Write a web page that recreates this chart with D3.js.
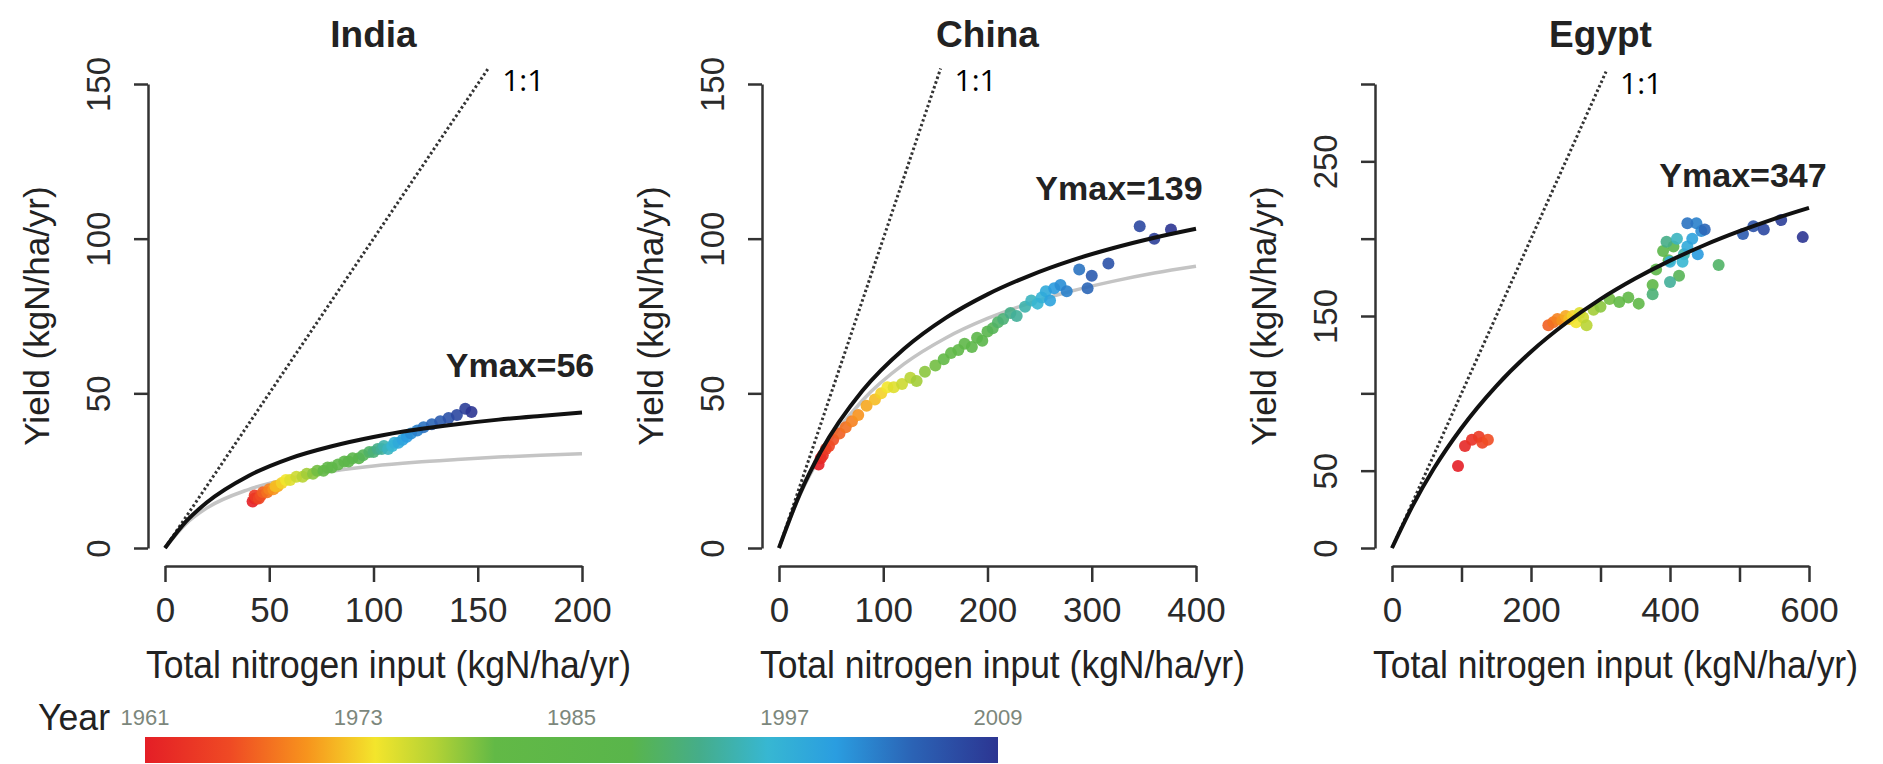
<!DOCTYPE html>
<html>
<head>
<meta charset="utf-8">
<script src="https://cdn.jsdelivr.net/npm/d3@7/dist/d3.min.js"></script>
<style>
body { margin: 0; background: #fff; }
text { font-family: "Liberation Sans", Arial, sans-serif; fill: #222; }
</style>
</head>
<body>
<svg id="chart" width="1883" height="764"></svg>
<script>
// ---- data ----
const countries = ["India", "China", "Egypt"];
const ymaxLabels = ["Ymax=56", "Ymax=139", "Ymax=347"];
const xMax = [200, 400, 600];
const yMax = [150, 150, 300];
const xTicks = [[0, 50, 100, 150, 200], [0, 100, 200, 300, 400], [0, 100, 200, 300, 400, 500, 600]];
const xTickLabels = [[0, 50, 100, 150, 200], [0, 100, 200, 300, 400], [0, 200, 400, 600]];
const yTicks = [[0, 50, 100, 150], [0, 50, 100, 150], [0, 50, 100, 150, 200, 250, 300]];
const yTickLabels = [[0, 50, 100, 150], [0, 50, 100, 150], [0, 50, 150, 250]];
const oneToOneEnd = [155, 155, 308];

const years = [1961, 1962, 1963, 1964, 1965, 1966, 1967, 1968, 1969, 1970,
    1971, 1972, 1973, 1974, 1975, 1976, 1977, 1978, 1979, 1980,
    1981, 1982, 1983, 1984, 1985, 1986, 1987, 1988, 1989, 1990,
    1991, 1992, 1993, 1994, 1995, 1996, 1997, 1998, 1999, 2000,
    2001, 2002, 2003, 2004, 2005, 2006, 2007, 2008, 2009];

const indiaN = [42, 43, 44, 43, 45, 46, 47, 49, 50, 52, 54, 53, 56, 58, 60, 63, 66, 68, 71, 73,
    76, 78, 80, 83, 86, 88, 90, 93, 95, 98, 100, 102, 104, 105, 107, 109, 110, 112, 114, 116,
    118, 121, 124, 128, 132, 136, 140, 144, 147];
const indiaY = [15, 16, 16, 17, 16, 17, 18, 18, 19, 19, 20, 20, 21, 22, 22, 23, 23, 24, 24, 25,
    25, 26, 26, 27, 28, 28, 29, 29, 30, 31, 31, 32, 32, 33, 32, 33, 34, 34, 35, 36,
    37, 38, 39, 40, 41, 42, 43, 45, 44];

const chinaN = [38, 40, 42, 45, 48, 52, 58, 64, 70, 76, 84, 92, 98, 104, 110, 118, 126, 132, 140, 150,
    158, 165, 172, 178, 185, 190, 195, 200, 205, 210, 215, 222, 228, 236, 242, 248, 252, 256, 260, 264,
    270, 276, 288, 296, 300, 316, 346, 360, 376];
const chinaY = [27, 29, 30, 32, 33, 35, 37, 39, 41, 43, 46, 48, 50, 52, 52, 53, 55, 54, 57, 59,
    61, 63, 64, 66, 65, 68, 67, 70, 71, 73, 74, 76, 75, 78, 80, 79, 81, 83, 80, 84,
    85, 83, 90, 84, 88, 92, 104, 100, 103];

const egyptN = [95, 105, 115, 125, 130, 138, 225, 232, 238, 245, 250, 255, 260, 265, 270, 275, 280, 290, 300, 313,
    327, 340, 355, 375, 380, 390, 398, 405, 413, 470, 375, 395, 400, 420, 410, 418, 400, 425, 432, 440,
    445, 438, 425, 450, 505, 520, 535, 560, 591];
const egyptY = [53, 66, 70, 72, 68, 70, 144, 146, 148, 147, 150, 148, 150, 146, 152, 149, 144, 154, 156, 161,
    159, 162, 158, 170, 180, 192, 186, 195, 176, 183, 164, 198, 172, 190, 200, 185, 185, 195, 200, 190,
    205, 210, 210, 206, 203, 208, 206, 212, 201];

// fitted response curves (black) and earlier fit (grey)
const indiaCurveN = [0, 10, 20, 40, 60, 80, 100, 120, 140, 160, 180, 200];
const indiaCurveY = [0, 8.5, 14.7, 23.3, 29.0, 32.9, 35.9, 38.2, 40.0, 41.5, 42.7, 43.8];
const indiaGreyY = [0, 7.8, 12.9, 18.9, 22.5, 24.8, 26.5, 27.7, 28.6, 29.4, 30.0, 30.5];
const chinaCurveN = [0, 20, 40, 80, 120, 160, 200, 240, 280, 320, 360, 400];
const chinaCurveY = [0, 17.5, 31.1, 50.8, 64.4, 74.4, 82.0, 88.0, 92.9, 96.9, 100.3, 103.2];
const chinaGreyY = [0, 17.1, 29.9, 47.7, 59.5, 67.9, 74.2, 79.1, 83.0, 86.2, 88.9, 91.1];
const egyptCurveN = [0, 30, 60, 100, 150, 200, 250, 300, 350, 400, 450, 500, 550, 600];
const egyptCurveY = [0, 27.6, 51.2, 77.6, 104.7, 126.9, 145.3, 160.9, 174.2, 185.8, 195.9, 204.8, 212.8, 219.9];

const colorbarYears = [1961, 1973, 1985, 1997, 2009];
const paletteStops = [0, 0.1, 0.19, 0.27, 0.34, 0.41, 0.57, 0.65, 0.73, 0.81, 0.9, 1];
const paletteColors = ["#e41e26", "#ef4a24", "#f7941d", "#f3e52c", "#b3d235", "#62b946", "#59b54b",
    "#45ad8a", "#37b7d2", "#2a9de0", "#2b63b5", "#2c3592"];

const points = [
    {n: indiaN, y: indiaY},
    {n: chinaN, y: chinaY},
    {n: egyptN, y: egyptY}
];
const curves = [
    {n: indiaCurveN, y: indiaCurveY, grey: indiaGreyY},
    {n: chinaCurveN, y: chinaCurveY, grey: chinaGreyY},
    {n: egyptCurveN, y: egyptCurveY, grey: null}
];

// ---- layout ----
const panelLeft = [165, 779, 1392];
const plotWidth = 417;
const yBottom = 548, yTop = 84;
const xAxisY = 566;
const ymaxPos = [[520, 377], [1119, 200], [1743, 187]];

const svg = d3.select("#chart");

const color = d3.scaleLinear()
    .domain(paletteStops.map(s => 1961 + s * 48))
    .range(paletteColors);

for (let p = 0; p < 3; p++) {
    const left = panelLeft[p];
    const xScale = d3.scaleLinear().domain([0, xMax[p]]).range([left, left + plotWidth]);
    const yScale = d3.scaleLinear().domain([0, yMax[p]]).range([yBottom, yTop]);
    const axisX = left - 17;
    const g = svg.append("g");

    // x-axis
    const xa = g.append("g")
        .attr("transform", "translate(0," + xAxisY + ")")
        .call(d3.axisBottom(xScale).tickValues(xTicks[p]).tickSize(16).tickSizeOuter(0)
            .tickFormat(d => xTickLabels[p].includes(d) ? d : ""));
    xa.selectAll("text").attr("y", 56).attr("dy", 0)
        .style("font-size", "35px").style("fill", "#2a2a2a");

    // y-axis
    const ya = g.append("g")
        .attr("transform", "translate(" + axisX + ",0)")
        .call(d3.axisLeft(yScale).tickValues(yTicks[p]).tickSize(14).tickSizeOuter(0)
            .tickFormat(d => yTickLabels[p].includes(d) ? d : ""));
    ya.selectAll("text")
        .attr("transform", "rotate(-90)")
        .attr("x", 0).attr("y", -38).attr("dy", 0)
        .style("text-anchor", "middle")
        .style("font-size", "33px").style("fill", "#2a2a2a");

    g.selectAll(".domain, .tick line").attr("stroke", "#333").attr("stroke-width", 2.5);

    // 1:1 line
    g.append("line")
        .attr("x1", xScale(0)).attr("y1", yScale(0))
        .attr("x2", xScale(oneToOneEnd[p])).attr("y2", yScale(oneToOneEnd[p]))
        .attr("stroke", "#333").attr("stroke-width", 3)
        .attr("stroke-dasharray", "2.5,2.5");

    g.append("text")
        .attr("x", xScale(oneToOneEnd[p]) + 14)
        .attr("y", yScale(oneToOneEnd[p]) + 22)
        .style("font-family", "'Open Sans', sans-serif")
        .style("font-size", "30px")
        .style("fill", "#000")
        .text("1:1");

    const line = d3.line()
        .x(d => xScale(d[0]))
        .y(d => yScale(d[1]))
        .curve(d3.curveMonotoneX);

    // grey curve
    if (curves[p].grey) {
        g.append("path")
            .datum(curves[p].n.map((v, i) => [v, curves[p].grey[i]]))
            .attr("d", line)
            .attr("fill", "none")
            .attr("stroke", "#c4c4c4")
            .attr("stroke-width", 3.5);
    }

    // points
    g.selectAll(".dot")
        .data(points[p].n.map((v, i) => ({n: v, y: points[p].y[i], year: years[i]})))
        .enter().append("circle")
        .attr("class", "dot")
        .attr("cx", d => xScale(d.n))
        .attr("cy", d => yScale(d.y))
        .attr("r", 6)
        .attr("fill", d => color(d.year))
        .attr("opacity", 0.9);

    // fitted curve
    g.append("path")
        .datum(curves[p].n.map((v, i) => [v, curves[p].y[i]]))
        .attr("d", line)
        .attr("fill", "none")
        .attr("stroke", "#111")
        .attr("stroke-width", 4);

    // titles
    g.append("text")
        .attr("x", left + plotWidth / 2)
        .attr("y", 47)
        .style("text-anchor", "middle")
        .style("font-weight", "bold")
        .style("font-size", "37px")
        .text(countries[p]);

    g.append("text")
        .attr("x", ymaxPos[p][0])
        .attr("y", ymaxPos[p][1])
        .style("text-anchor", "middle")
        .style("font-weight", "bold")
        .style("font-size", "34px")
        .text(ymaxLabels[p]);

    g.append("text")
        .attr("x", left + plotWidth / 2 + 15)
        .attr("y", 678)
        .attr("textLength", 485)
        .attr("lengthAdjust", "spacingAndGlyphs")
        .style("text-anchor", "middle")
        .style("font-size", "38px")
        .text("Total nitrogen input (kgN/ha/yr)");

    g.append("text")
        .attr("transform", "translate(" + (axisX - 99) + "," + 316 + ") rotate(-90)")
        .style("text-anchor", "middle")
        .style("font-size", "35px")
        .text("Yield (kgN/ha/yr)");
}

// ---- colour bar ----
const barX0 = 145, barX1 = 998, barY = 737, barH = 26;
const yearScale = d3.scaleLinear().domain([1961, 2009]).range([barX0, barX1]);

const grad = svg.append("defs").append("linearGradient")
    .attr("id", "yeargrad")
    .attr("x1", "0%").attr("x2", "100%").attr("y1", "0%").attr("y2", "0%");
grad.selectAll("stop")
    .data(paletteStops)
    .enter().append("stop")
    .attr("offset", d => (d * 100) + "%")
    .attr("stop-color", (d, i) => paletteColors[i]);

svg.append("rect")
    .attr("x", barX0).attr("y", barY)
    .attr("width", barX1 - barX0).attr("height", barH)
    .attr("fill", "url(#yeargrad)");

svg.selectAll(".yearlab")
    .data(colorbarYears)
    .enter().append("text")
    .attr("class", "yearlab")
    .attr("x", d => yearScale(d))
    .attr("y", 725)
    .style("text-anchor", "middle")
    .style("font-size", "22px")
    .style("fill", "#7c877c")
    .text(d => d);

svg.append("text")
    .attr("x", 38).attr("y", 730)
    .attr("textLength", 72)
    .attr("lengthAdjust", "spacingAndGlyphs")
    .style("font-size", "37px")
    .text("Year");
</script>
</body>
</html>
